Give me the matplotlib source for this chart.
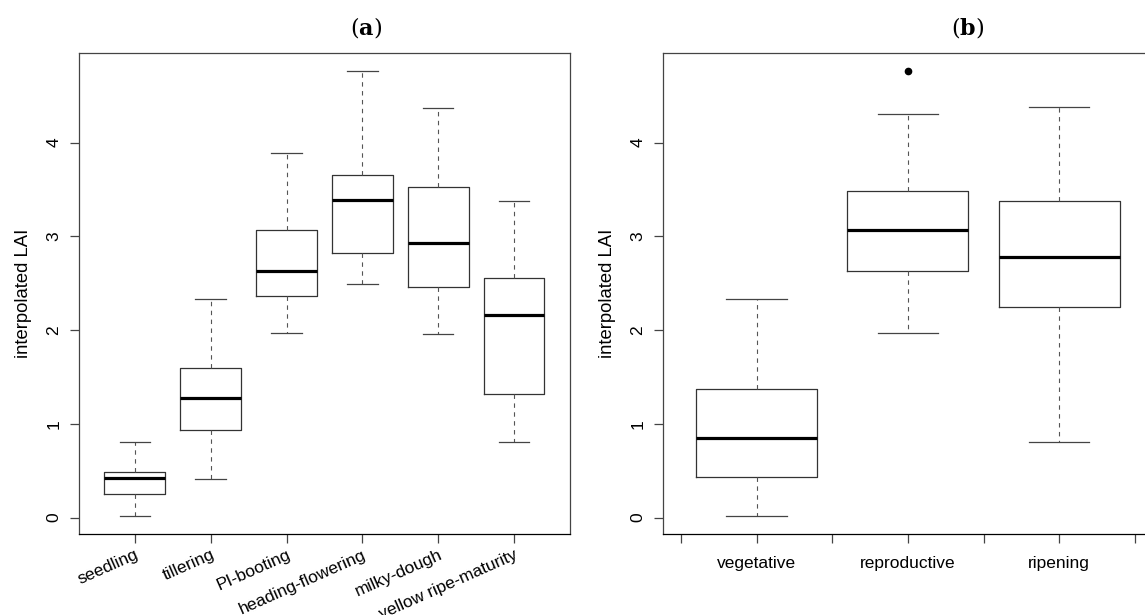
import matplotlib
matplotlib.use('Agg')
import matplotlib.pyplot as plt

plt.rcParams['font.family'] = ['Liberation Sans', 'DejaVu Sans']
plt.rcParams['mathtext.fontset'] = 'dejavuserif'

# stage boxplot stats (low whisker, Q1, median, Q3, high whisker)
stages = ['seedling', 'tillering', 'PI-booting', 'heading-flowering',
          'milky-dough', 'yellow ripe-maturity']
stage_low = [0.016, 0.41, 1.966, 2.49, 1.955, 0.806]
stage_q1 = [0.248, 0.93, 2.364, 2.82, 2.46, 1.315]
stage_med = [0.425, 1.27, 2.63, 3.385, 2.93, 2.164]
stage_q3 = [0.482, 1.60, 3.07, 3.655, 3.527, 2.56]
stage_high = [0.806, 2.33, 3.89, 4.76, 4.373, 3.38]

periods = ['vegetative', 'reproductive', 'ripening']
period_low = [0.016, 1.966, 0.806]
period_q1 = [0.432, 2.628, 2.247]
period_med = [0.852, 3.07, 2.78]
period_q3 = [1.375, 3.485, 3.38]
period_high = [2.33, 4.31, 4.378]
period_fliers = [[], [4.76], []]

yticks = [0, 1, 2, 3, 4]

LINE = '#333333'


def make_stats(low, q1, med, q3, high, fliers=None):
    stats = []
    for i in range(len(low)):
        stats.append(dict(whislo=low[i], q1=q1[i], med=med[i], q3=q3[i],
                          whishi=high[i],
                          fliers=fliers[i] if fliers else []))
    return stats


def draw_box(ax, stats):
    pos = range(1, len(stats) + 1)
    ax.bxp(stats, positions=pos, widths=0.8, showfliers=True,
           boxprops=dict(color=LINE, linewidth=0.9),
           medianprops=dict(color='black', linewidth=2.3, solid_capstyle='butt'),
           whiskerprops=dict(color='#555555', linewidth=0.8, linestyle=(0, (4, 4))),
           capprops=dict(color='#444444', linewidth=0.9),
           capwidths=0.4,
           flierprops=dict(marker='o', markerfacecolor='black',
                           markeredgecolor='black', markersize=4.5))
    ax.set_ylim(-0.176, 4.96)
    ax.set_yticks(yticks)
    ax.set_yticklabels([str(t) for t in yticks], rotation=90, va='center')
    ax.set_ylabel('interpolated LAI', fontsize=13.3, labelpad=10)
    for s in ax.spines.values():
        s.set_color('#444444')
        s.set_linewidth(0.9)
    ax.spines['bottom'].set_color('black')
    ax.tick_params(axis='both', which='both', direction='out', length=6.5,
                   width=0.9, color='#444444', labelsize=12.5, pad=6)


fig = plt.figure(figsize=(11.45, 6.15), dpi=100)
ax1 = fig.add_axes([0.0687, 0.1317, 0.4293, 0.7826])
ax2 = fig.add_axes([0.5788, 0.1317, 0.4282, 0.7826])

# (a) growth stages
draw_box(ax1, make_stats(stage_low, stage_q1, stage_med, stage_q3, stage_high))
ax1.set_xlim(0.26, 6.74)
ax1.set_xticks(range(1, len(stages) + 1))
ax1.set_xticklabels(stages, rotation=24, ha='right', va='top',
                    rotation_mode='anchor')
ax1.tick_params(axis='x', pad=3)

# (b) growth periods
draw_box(ax2, make_stats(period_low, period_q1, period_med, period_q3,
                         period_high, period_fliers))
ax2.set_xlim(0.38, 3.62)
ax2.set_xticks(range(1, len(periods) + 1))
ax2.set_xticklabels(periods)
ax2.set_xticks([0.5, 1.5, 2.5, 3.5], minor=True)
ax2.tick_params(axis='x', pad=9)

fig.text(366 / 1145, 1 - 27 / 615, r'($\mathbf{a}$)', fontsize=16,
         family='DejaVu Serif', ha='center', va='center')
fig.text(968 / 1145, 1 - 27 / 615, r'($\mathbf{b}$)', fontsize=16,
         family='DejaVu Serif', ha='center', va='center')

fig.savefig('out.png', dpi=100)
